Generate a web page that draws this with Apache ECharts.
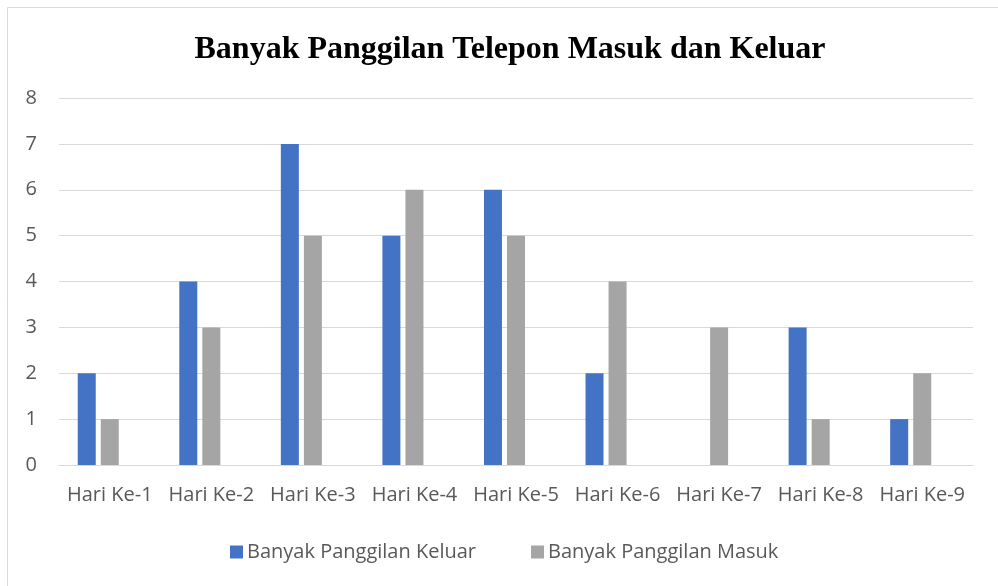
<!DOCTYPE html>
<html>
<head>
<meta charset="utf-8">
<script src="https://cdn.jsdelivr.net/npm/echarts@6/dist/echarts.min.js"></script>
<style>
  html, body { margin: 0; padding: 0; background: #fff; }
  #chart { width: 998px; height: 586px; }
</style>
</head>
<body>
<div id="chart"></div>
<script>
// data
const days = ['Hari Ke-1', 'Hari Ke-2', 'Hari Ke-3', 'Hari Ke-4', 'Hari Ke-5', 'Hari Ke-6', 'Hari Ke-7', 'Hari Ke-8', 'Hari Ke-9'];
const keluar = [2, 4, 7, 5, 6, 2, 0, 3, 1];
const masuk = [1, 3, 5, 6, 5, 4, 3, 1, 2];
const yTicks = [0, 8, 1]; // min, max, interval

const textColor = '#595959';
const labelFont = 'Open Sans';

let chart = echarts.init(document.getElementById('chart'));

const option = {
    backgroundColor: '#ffffff',
    color: ['#4472C4', '#A5A5A5'],
    title: {
        text: 'Banyak Panggilan Telepon Masuk dan Keluar',
        left: 505,
        top: 29,
        textAlign: 'center',
        textStyle: {
            fontFamily: 'Liberation Serif',
            fontWeight: 'bold',
            fontSize: 32,
            color: '#000000'
        }
    },
    // outer chart frame (partly cut off by the picture edge)
    graphic: [{
        type: 'rect',
        shape: { x: 7.5, y: 7.5, width: 1000, height: 600 },
        style: { fill: null, stroke: '#d9d9d9', lineWidth: 1 },
        silent: true
    }],
    legend: {
        data: ['Banyak Panggilan Keluar', 'Banyak Panggilan Masuk'],
        left: 225,
        top: 537,
        itemWidth: 13,
        itemHeight: 13,
        itemGap: 55,
        icon: 'rect',
        textStyle: {
            fontFamily: labelFont,
            fontSize: 20,
            color: textColor,
            padding: [0, 0, 0, -1]
        }
    },
    grid: {
        left: 59,
        right: 25,
        top: 98,
        bottom: 121
    },
    xAxis: {
        type: 'category',
        data: days,
        axisTick: { show: false },
        axisLine: { lineStyle: { color: '#d9d9d9', width: 1 } },
        axisLabel: {
            margin: 20,
            fontFamily: labelFont,
            fontSize: 20,
            color: textColor,
            interval: 0
        }
    },
    yAxis: {
        type: 'value',
        min: yTicks[0],
        max: yTicks[1],
        interval: yTicks[2],
        axisLine: { show: false },
        axisTick: { show: false },
        axisLabel: {
            margin: 22,
            fontFamily: labelFont,
            fontSize: 20,
            color: textColor
        },
        splitLine: { lineStyle: { color: '#d9d9d9', width: 1 } }
    },
    series: [
        {
            name: 'Banyak Panggilan Keluar',
            type: 'bar',
            data: keluar,
            barWidth: 18,
            barGap: '28%'
        },
        {
            name: 'Banyak Panggilan Masuk',
            type: 'bar',
            data: masuk,
            barWidth: 18,
            barGap: '28%'
        },
        // empty third slot, as in the original sheet, keeps the bars left of centre
        {
            name: 'kosong',
            type: 'bar',
            data: [],
            barWidth: 18,
            barGap: '28%'
        }
    ]
};

chart.setOption(option);
</script>
</body>
</html>
